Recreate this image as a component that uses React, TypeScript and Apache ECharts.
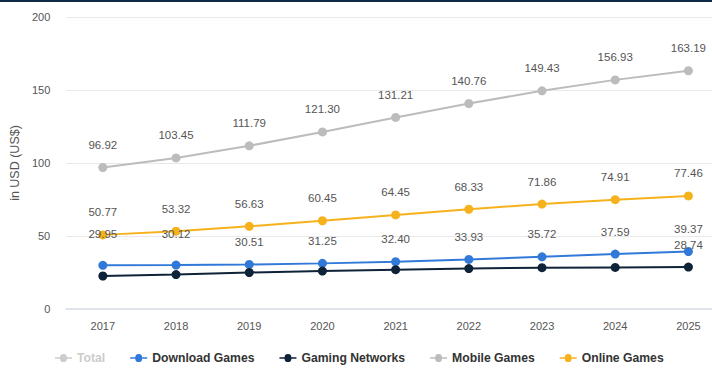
import React, { useEffect, useRef } from "react";
import * as echarts from "echarts";

const years = ["2017", "2018", "2019", "2020", "2021", "2022", "2023", "2024", "2025"];
const downloadGames = [29.95, 30.12, 30.51, 31.25, 32.4, 33.93, 35.72, 37.59, 39.37];
const gamingNetworks = [22.6, 23.6, 25.0, 26.0, 26.9, 27.7, 28.3, 28.5, 28.74];
const mobileGames = [96.92, 103.45, 111.79, 121.3, 131.21, 140.76, 149.43, 156.93, 163.19];
const onlineGames = [50.77, 53.32, 56.63, 60.45, 64.45, 68.33, 71.86, 74.91, 77.46];
const totalValues: number[] = [];

const FONT = "'Liberation Sans', Arial, sans-serif";
const LEG_ICON = "path://M0,4h6a4,4 0 1,1 8,0h6v1.6h-6a4,4 0 1,1 -8,0h-6z";

export default function App() {
  const ref = useRef<HTMLDivElement>(null);
  useEffect(() => {
    if (!ref.current) return;
    const chart = echarts.init(ref.current, null, { renderer: "svg" });
    const labelBase = {
      show: true,
      position: "top" as const,
      distance: 12,
      fontSize: 11.5,
      color: "#555",
      fontFamily: FONT,
      formatter: (p: any) => Number(p.value).toFixed(2),
    };
    const mkSeries = (name: string, data: any[], color: string, label: any = labelBase) => ({
      name,
      type: "line",
      data,
      symbol: "circle",
      symbolSize: 9,
      lineStyle: { width: 2, color },
      itemStyle: { color },
      label,
      z: 3,
    });
    const downloadData = downloadGames.map((v, i) =>
      i < 2 ? { value: v, label: { offset: [0, -9] } } : v
    );
    const gamingData = gamingNetworks.map((v, i) =>
      i === gamingNetworks.length - 1 ? { value: v, label: { show: true } } : v
    );
    chart.setOption({
      animation: false,
      textStyle: { fontFamily: FONT },
      graphic: [
        { type: "rect", left: 0, top: 0, shape: { width: 712, height: 2 }, style: { fill: "#0f2a47" } },
      ],
      legend: {
        left: 50,
        bottom: 0,
        itemWidth: 17,
        itemHeight: 9,
        itemGap: 25,
        textStyle: { fontSize: 12.2, fontWeight: "bold", color: "#333", fontFamily: FONT },
        inactiveColor: "#ccc",
        selected: { Total: false },
        data: ["Total", "Download Games", "Gaming Networks", "Mobile Games", "Online Games"].map((n) => ({
          name: n,
          icon: LEG_ICON,
        })),
      },
      grid: { left: 62, top: 17, width: 663, height: 292, containLabel: false },
      xAxis: {
        type: "category",
        data: years,
        boundaryGap: true,
        axisLine: { show: true, lineStyle: { color: "#dfe3ec", width: 2 } },
        axisTick: { show: false },
        axisLabel: { fontSize: 11, color: "#555", margin: 11, fontFamily: FONT },
      },
      yAxis: {
        type: "value",
        min: 0,
        max: 200,
        interval: 50,
        name: "in USD (US$)",
        nameLocation: "middle",
        nameGap: 44,
        nameTextStyle: { fontSize: 12.5, color: "#555", fontFamily: FONT },
        axisLine: { show: false },
        axisTick: { show: false },
        axisLabel: { fontSize: 11, color: "#555", margin: 16, fontFamily: FONT },
        splitLine: { lineStyle: { color: "#e9e9e9", width: 1 } },
      },
      series: [
        { ...mkSeries("Total", totalValues, "#c8c8c8") },
        mkSeries("Download Games", downloadData, "#3179d8"),
        mkSeries("Gaming Networks", gamingData, "#0e2238", { ...labelBase, show: false }),
        mkSeries("Mobile Games", mobileGames, "#bcbcbc"),
        mkSeries("Online Games", onlineGames, "#f6b21c"),
      ],
    });
    return () => chart.dispose();
  }, []);
  return (
    <div style={{ width: 712, height: 369, position: "absolute", left: 0, top: 0, overflow: "hidden" }}>
      <div ref={ref} style={{ width: 740, height: 369 }} />
    </div>
  );
}
